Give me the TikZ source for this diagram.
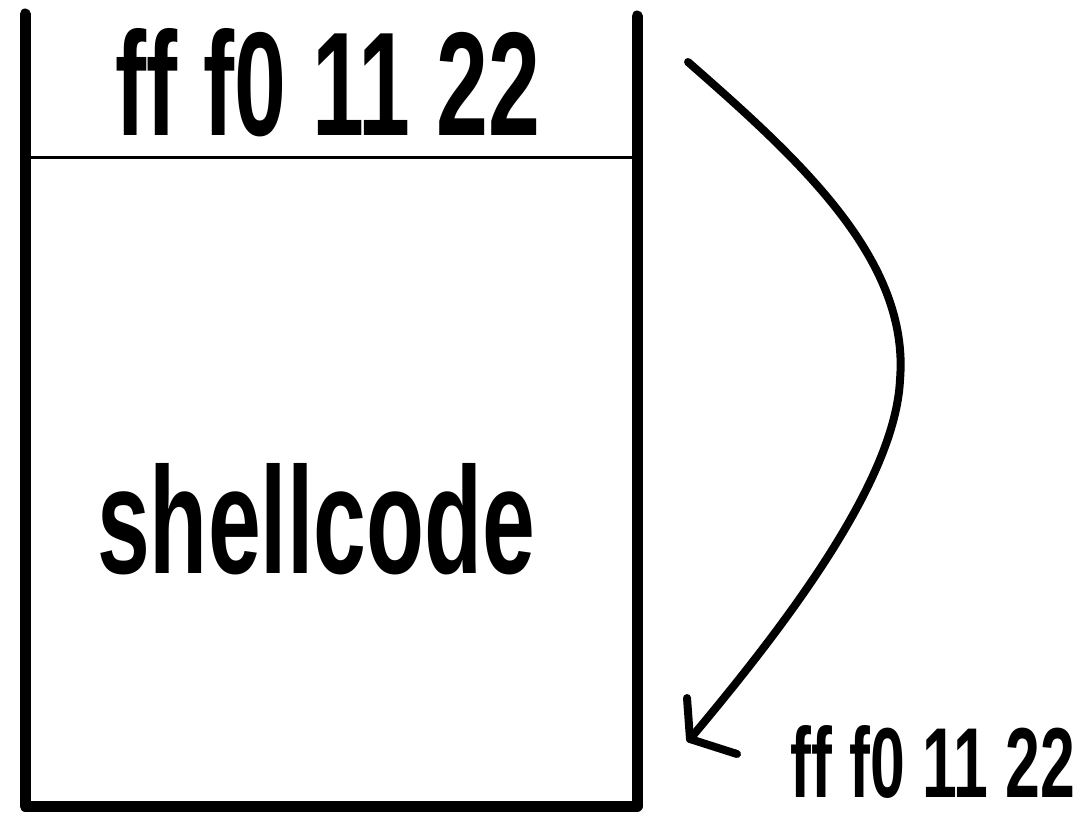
\documentclass[tikz,border=0pt]{standalone}
\usepackage{fontspec}
\setmainfont{Liberation Sans}
\usepackage{graphicx}
\begin{document}
\begin{tikzpicture}[x=1pt,y=-1pt,
  wall/.style={line width=11pt,line cap=round,line join=round},
  divider/.style={line width=3pt},
  flow/.style={line width=8pt,line cap=round,line join=round},
  label/.style={inner sep=0pt,anchor=base west}]
\useasboundingbox (0,0) rectangle (1084,816);

% open-top container
\draw[wall] (25,14) -- (25,806) -- (637,806) -- (637,16);
\draw[divider] (28,157) -- (634,157);

% contents
\node[label] (top) at (115,135) {\resizebox{425pt}{107pt}{\bfseries ff f0 11 22}};
\node[label] (shell) at (97,573) {\resizebox{438pt}{110pt}{\bfseries shellcode}};
\node[label] (copy) at (790,797) {\resizebox{285pt}{72pt}{\bfseries ff f0 11 22}};

% curved arrow from the stored value to its copy
\coordinate (src) at (688,62);
\coordinate (bend) at (900,380);
\coordinate (dst) at (690,739);
\draw[flow] (src) .. controls (800,160) and (910,260) .. (bend)
  .. controls (895,480) and (790,620) .. (dst);
\draw[flow] (687,698) -- (dst) -- (737,754);
\end{tikzpicture}
\end{document}
